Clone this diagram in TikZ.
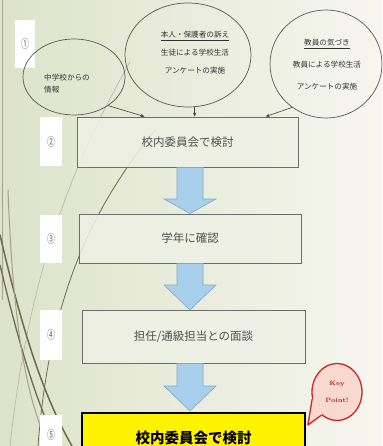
\documentclass[tikz,border=0pt]{standalone}
\usepackage{graphicx}
\usepackage{fontspec}
\newfontfamily\jp{Noto Sans CJK JP}
\usetikzlibrary{arrows.meta,calc,shapes.geometric}
\definecolor{bgL}{HTML}{DDE3C9}
\definecolor{bgR}{HTML}{F6F6EF}
\definecolor{olive}{HTML}{6E6C4E}
\definecolor{olivelt}{HTML}{A3A28A}
\definecolor{boxfill}{HTML}{EFF1E6}
\definecolor{boxline}{HTML}{6E6E68}
\definecolor{boxtext}{HTML}{505050}
\definecolor{arrfill}{HTML}{A8D0EC}
\definecolor{arrline}{HTML}{7FA9C9}
\definecolor{kpred}{HTML}{D52222}
\definecolor{kpfill}{HTML}{F7D9CF}
\definecolor{numcol}{HTML}{606070}
\tikzset{
  ell/.style={draw=black!65, line width=0.7pt, ellipse, inner sep=0pt},
  etext/.style={font=\jp\fontsize{7.6}{18}\selectfont, text=black!80, inner sep=0pt},
  stepbox/.style={draw=boxline, line width=0.8pt, fill=boxfill, fill opacity=0.85, text opacity=1,
    text=boxtext, font=\jp\fontsize{11.5}{14}\selectfont, inner sep=0pt},
  keybox/.style={draw=black, line width=1.8pt, fill=yellow, text=black,
    font=\jp\bfseries\fontsize{14.5}{16}\selectfont, inner sep=0pt},
  numlab/.style={fill=white, inner sep=0pt, text=numcol, font=\jp\fontsize{8}{9}\selectfont},
  conn/.style={draw=black!75, line width=0.6pt, -{Stealth[length=4pt,width=3.2pt]}},
  blockarrow/.style={fill=arrfill, draw=arrline, line width=0.6pt},
  deco/.style={draw=olive, line cap=round},
  kpball/.style={ellipse, draw=kpred, line width=1.3pt, fill=kpfill, inner sep=0pt},
  kptext/.style={inner sep=0pt, text=kpred!85!black, align=center, font=\bfseries\fontsize{6.3}{17}\selectfont},
}
\begin{document}
\begin{tikzpicture}[x=1pt,y=-1pt]
\useasboundingbox (0,0) rectangle (382,446);
\shade[left color=bgL, right color=bgR] (0,0) rectangle (382,446);

% decorative theme curves
\draw[olivelt, line width=0.5pt] (2,0) -- (2,300);
\draw[deco, draw=olivelt, draw opacity=0.7, line width=0.6pt] (130,62) .. controls (80,150) and (30,260) .. (10,446);
\draw[deco, line width=0.8pt] (155,130) .. controls (95,205) and (50,290) .. (38,446);
\draw[deco, line width=1.5pt] (0,235) .. controls (20,320) and (40,390) .. (72,446);
\draw[deco, line width=1.3pt] (0,265) .. controls (18,340) and (35,400) .. (58,446);
\draw[deco, draw=olivelt, line width=1pt] (8,190) .. controls (12,300) and (22,380) .. (42,430);

% number labels
\node[numlab, minimum width=20, minimum height=48] (n1) at (25,44) {\scalebox{1}[1.5]{①}};
\node[numlab, minimum width=22, minimum height=49] (n2) at (51,142) {\scalebox{1}[1.5]{②}};
\node[numlab, minimum width=22, minimum height=48] (n3) at (51,239) {\scalebox{1}[1.5]{③}};
\node[numlab, minimum width=22, minimum height=50] (n4) at (51,335) {\scalebox{1}[1.5]{④}};
\node[numlab, minimum width=22, minimum height=40] (n5) at (51,435) {\scalebox{1}[1.5]{⑤}};

% ellipses
\node[ell, minimum width=102, minimum height=76] (e1) at (74,77) {};
\node[etext, anchor=west, align=left] (t1) at (44,84) {中学校からの\\[-6pt]情報};
\node[ell, minimum width=126, minimum height=104] (e2) at (188,55) {};
\node[etext, align=center] (t2) at (195,53) {\underline{本人・保護者の訴え}\\生徒による学校生活\\アンケートの実施};
\node[ell, minimum width=112, minimum height=108] (e3) at (326,64) {};
\node[etext, align=center, font=\jp\fontsize{7.6}{22}\selectfont] (t3) at (327,65) {\underline{教員の気づき}\\教員による学校生活\\アンケートの実施};

% step boxes
\node[stepbox, minimum width=221, minimum height=50] (b2) at (187.5,142) {校内委員会で検討};
\node[stepbox, minimum width=222, minimum height=49] (b3) at (190,238.5) {学年に確認};
\node[stepbox, minimum width=223, minimum height=53] (b4) at (193.5,336.5) {担任/通級担当との面談};
\node[keybox, minimum width=223, minimum height=50, anchor=north] (b5) at (193.5,412) {校内委員会で検討};

% connectors from ellipses to box 2
\coordinate (a1) at ($(b2.north west)+(68,0)$);
\coordinate (a2) at ($(b2.north west)+(118,0)$);
\coordinate (a3) at ($(b2.north west)+(189,0)$);
\draw[conn] (e1.-40) -- (a1);
\draw[conn] (e2.south -| a2) -- (a2);
\draw[conn] (e3.-128) -- (a3);

% block arrows between boxes
\draw[blockarrow] (177,167.5) -- (203,167.5) -- (203,199) -- (216,199) -- (190,213.5) -- (164,199) -- (177,199) -- cycle;
\draw[blockarrow] (177,263.5) -- (203,263.5) -- (203,285) -- (216,285) -- (190,310) -- (164,285) -- (177,285) -- cycle;
\draw[blockarrow] (177,363.5) -- (203,363.5) -- (203,386) -- (216,386) -- (190,411) -- (164,386) -- (177,386) -- cycle;

% key point callout
\coordinate (kptip) at ($(b5.north east)+(2,13)$);
\node[kpball, minimum width=50, minimum height=57] (kp) at (337,392) {};
\fill[kpfill] (kp.196) -- (kptip) -- (kp.236) -- (kp.center) -- cycle;
\draw[kpred, line width=1.3pt, line join=round] (kp.196) -- (kptip) -- (kp.236);
\node[kptext] (kpt) at (kp.center) {Key\\Point!};
\end{tikzpicture}
\end{document}
